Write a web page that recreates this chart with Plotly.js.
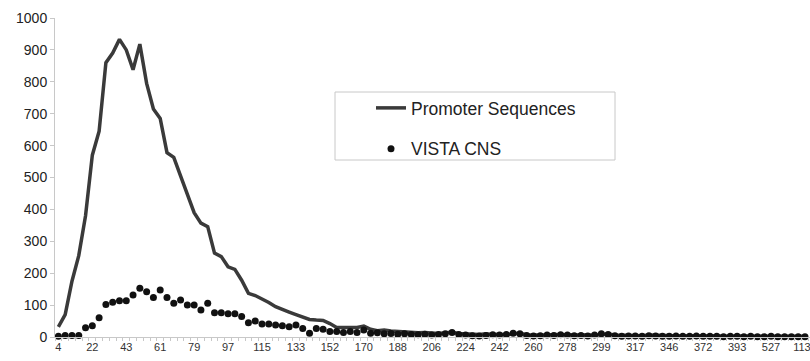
<!DOCTYPE html>
<html>
<head>
<meta charset="utf-8">
<script src="https://cdn.plot.ly/plotly-3.0.1.min.js"></script>
<style>html,body{margin:0;padding:0;background:#fff;}#chart{width:810px;height:361px;}</style>
</head>
<body>
<div id="chart"></div>
<script>
// Tick labels shown on the category axis (one every 5 categories)
const tickLabels = ['4','22','43','61','79','97','115','133','152','170','188','206','224','242','260','278','299','317','346','372','393','527','1130'];
const labelEvery = 5;

// Promoter Sequences (line)
const promoter = [
  32,70,175,255,380,570,645,860,890,933,
  900,838,918,795,715,685,578,563,505,445,
  390,357,346,263,252,220,212,178,137,130,
  120,108,95,85,78,70,63,55,53,52,
  42,30,30,30,30,34,24,20,22,19,
  17,16,15,13,14,12,11,13,15,11,
  10,9,8,10,8,9,7,10,12,7,
  6,7,6,8,7,6,5,6,7,5,
  8,9,6,5,4,5,4,6,5,4,
  3,4,3,4,3,3,4,3,3,2,
  3,3,2,3,2,2,3,2,2,2,2
];

// VISTA CNS (dots)
const vista = [
  2,5,5,5,29,35,60,102,109,114,
  114,132,153,142,124,147,124,106,116,100,
  100,85,106,76,76,73,73,64,45,50,
  41,41,38,35,32,38,27,12,27,24,
  17,17,14,17,14,22,12,13,10,11,
  9,10,8,7,9,6,8,10,14,8,
  6,4,3,5,7,6,8,12,10,5,
  3,4,6,5,7,6,4,5,3,6,
  10,8,4,2,3,3,2,4,3,2,
  2,3,2,2,3,2,2,2,1,2,
  2,1,2,1,1,2,1,1,1,1,1
];

const xIdx = promoter.map((_, i) => i);
const tickVals = tickLabels.map((_, i) => i * labelEvery);

// plot-area pixel helpers for legend frame (plot area: x 55..810, y 18..337)
const PL = 55, PW = 755, PT = 18, PH = 319;
const px = v => (v - PL) / PW;
const py = v => (PT + PH - v) / PH;

const traces = [
  {
    x: xIdx, y: promoter, type: 'scatter', mode: 'lines',
    name: 'Promoter Sequences', legendgroup: 'a',
    line: {color: '#3a3a3a', width: 3.5}
  },
  {
    x: xIdx, y: vista, type: 'scatter', mode: 'markers',
    name: 'VISTA CNS', legendgroup: 'b', cliponaxis: false,
    marker: {color: '#111111', size: 7}
  }
];

const axisGray = '#c8c8c8';
const layout = {
  width: 810, height: 361,
  margin: {l: PL, r: 0, t: PT, b: 24},
  paper_bgcolor: '#ffffff', plot_bgcolor: '#ffffff',
  font: {family: 'Liberation Sans, Arial, sans-serif', color: '#222'},
  showlegend: true,
  xaxis: {
    range: [-0.5, 110.74],
    tickmode: 'array', tickvals: tickVals, ticktext: tickLabels,
    ticks: '', showgrid: false, zeroline: false,
    showline: true, linecolor: axisGray, linewidth: 1,
    tickfont: {size: 11, color: '#333'},
    ticklabeloverflow: 'allow',
    minor: {tickmode: 'linear', tick0: 0.5, dtick: 1, ticks: 'outside', ticklen: 3, tickcolor: axisGray, showgrid: false},
    fixedrange: true
  },
  yaxis: {
    range: [0, 1000], tickmode: 'linear', tick0: 0, dtick: 100,
    ticks: 'outside', ticklen: 4, tickcolor: axisGray,
    showline: true, linecolor: axisGray, linewidth: 1,
    showgrid: false, zeroline: false,
    tickfont: {size: 14, color: '#222'},
    fixedrange: true
  },
  legend: {
    x: px(371), y: py(90), xanchor: 'left', yanchor: 'top',
    bgcolor: 'rgba(0,0,0,0)', borderwidth: 0,
    traceorder: 'grouped', tracegroupgap: 15,
    font: {size: 17.5, color: '#222'}
  },
  shapes: [{
    type: 'rect', xref: 'paper', yref: 'paper',
    x0: px(335), x1: px(615), y0: py(160), y1: py(92),
    line: {color: axisGray, width: 1}, fillcolor: 'rgba(0,0,0,0)'
  }]
};

Plotly.newPlot('chart', traces, layout, {displayModeBar: false, staticPlot: true});
</script>
</body>
</html>
